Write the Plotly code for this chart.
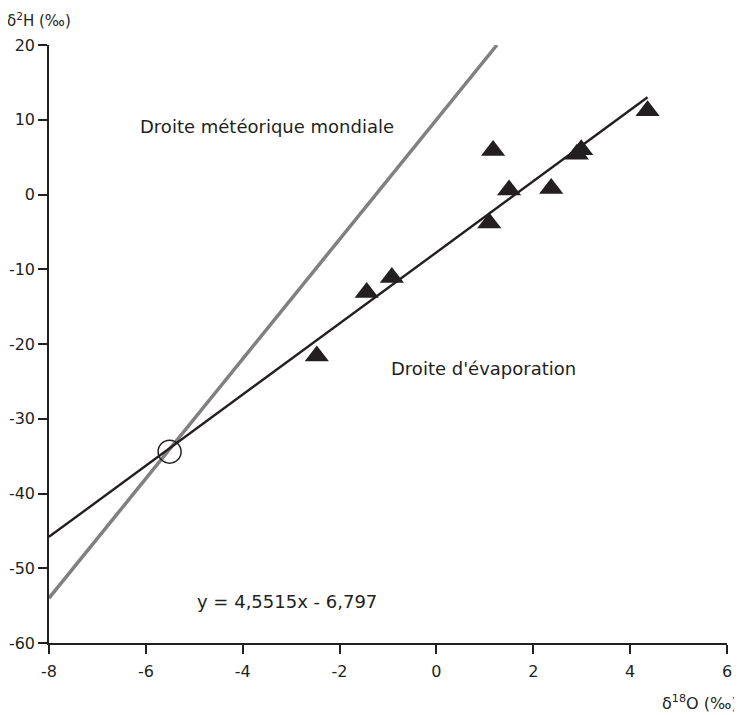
import plotly.graph_objects as go

# Sample points (triangles)
pts_x = [-2.47, -1.44, -0.92, 1.09, 1.17, 1.50, 2.37, 2.90, 2.99, 4.36]
pts_y = [-21.6, -13.1, -11.1, -3.8, 5.9, 0.6, 0.8, 5.4, 6.0, 11.2]

# Evaporation line endpoints
evap_x = [-8.0, 4.36]
evap_y = [-45.8, 13.0]

# Global meteoric water line endpoints
gmwl_x = [-8.0, 1.25]
gmwl_y = [-54.0, 20.0]

# Intersection point
inter_x = [-5.51]
inter_y = [-34.4]

x_ticks = [-8, -6, -4, -2, 0, 2, 4, 6]
y_ticks = [-60, -50, -40, -30, -20, -10, 0, 10, 20]

FONT = "DejaVu Sans, Verdana, sans-serif"
TXT = "#231f20"

fig = go.Figure()
fig.add_trace(go.Scatter(x=gmwl_x, y=gmwl_y, mode="lines",
                         line=dict(color="#808080", width=3.5), showlegend=False))
fig.add_trace(go.Scatter(x=evap_x, y=evap_y, mode="lines",
                         line=dict(color="#231f20", width=2.4), showlegend=False))
fig.add_trace(go.Scatter(x=pts_x, y=pts_y, mode="markers",
                         marker=dict(symbol="triangle-up", size=21, color="#231f20",
                                     line=dict(width=0)),
                         showlegend=False, cliponaxis=False))
fig.add_trace(go.Scatter(x=inter_x, y=inter_y, mode="markers",
                         marker=dict(symbol="circle-open", size=23, color="#231f20",
                                     line=dict(width=1.5, color="#231f20")),
                         showlegend=False, cliponaxis=False))

ann_font = dict(size=18, color=TXT, family=FONT)
fig.add_annotation(x=-3.5, y=9.1, text="Droite météorique mondiale", showarrow=False,
                   font=ann_font)
fig.add_annotation(x=0.97, y=-23.3, text="Droite d'évaporation", showarrow=False,
                   font=ann_font)
fig.add_annotation(x=-3.08, y=-54.5, text="y = 4,5515x - 6,797", showarrow=False,
                   font=ann_font)
fig.add_annotation(xref="paper", yref="paper", x=-0.0649, y=1.0418,
                   xanchor="left", yanchor="middle",
                   text="δ<sup>2</sup>H (‰)", showarrow=False,
                   font=dict(size=15, color=TXT, family=FONT))
fig.add_annotation(xref="paper", yref="paper", x=1.0192, y=-0.1003,
                   xanchor="right", yanchor="middle",
                   text="δ<sup>18</sup>O (‰)", showarrow=False,
                   font=dict(size=16, color=TXT, family=FONT))

axis_common = dict(showline=True, linecolor=TXT, linewidth=1.5, ticks="outside",
                   ticklen=9, tickwidth=1.5, tickcolor=TXT, showgrid=False,
                   zeroline=False, automargin=False,
                   tickfont=dict(size=16, color=TXT, family=FONT))
fig.update_xaxes(range=[-8, 6], tickvals=x_ticks, ticktext=[str(v) for v in x_ticks],
                 ticklabelstandoff=4, **axis_common)
fig.update_yaxes(range=[-60, 20], tickvals=y_ticks, ticktext=[str(v) for v in y_ticks],
                 **axis_common)

# The page body adds an 8px margin, so the figure is sized to fit the window.
fig.update_layout(width=734, height=707, margin=dict(l=41, r=15, t=37, b=72),
                  plot_bgcolor="white", paper_bgcolor="white")

fig.write_html("out.html")
